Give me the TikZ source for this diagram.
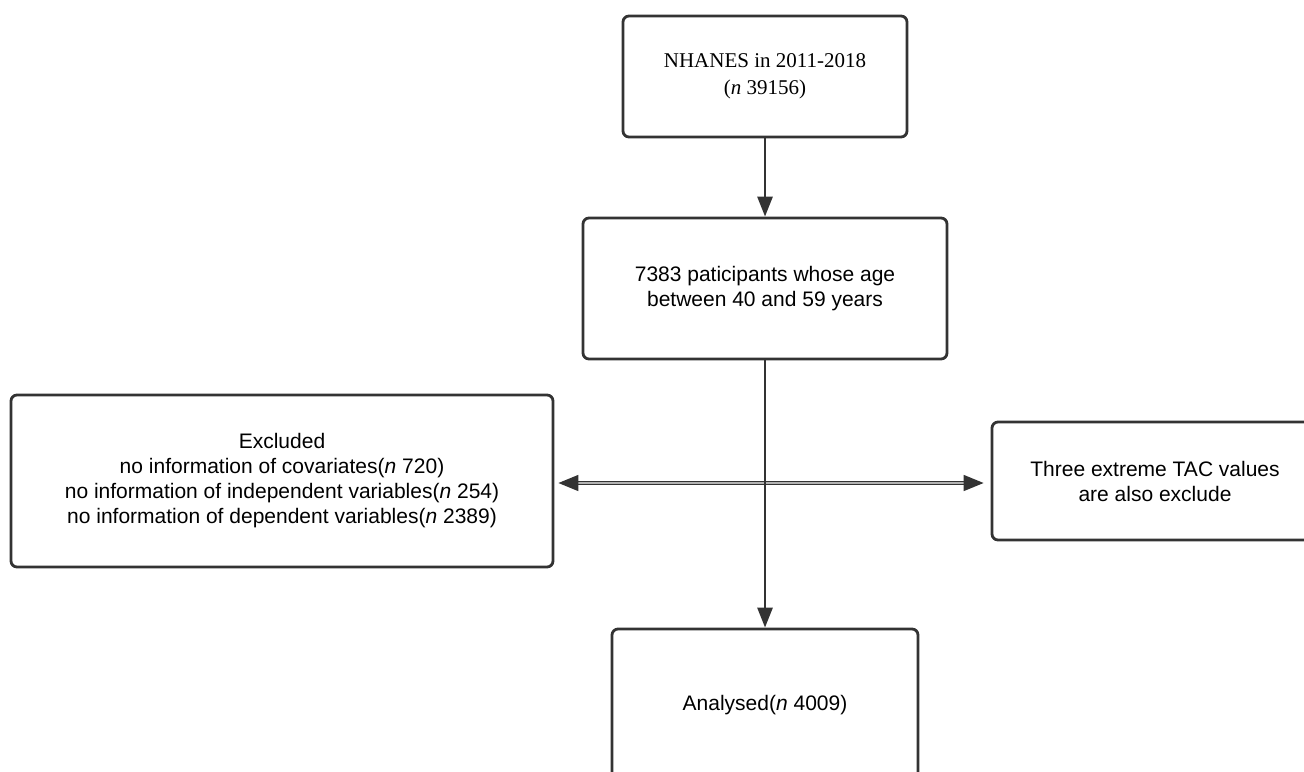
\documentclass[tikz,border=0pt]{standalone}
\usepackage{fontspec}
\setmainfont{Liberation Serif}
\setsansfont{Liberation Sans}
\usepackage{tikz}
\usetikzlibrary{arrows.meta}
\definecolor{linegray}{HTML}{333333}

\begin{document}
\begin{tikzpicture}
      [
        x=0.5pt, y=-0.5pt,
        box/.style={draw=linegray, line width=1.4pt, rounded corners=3pt, align=center, inner sep=0pt},
        sbox/.style={box, font=\sffamily\fontsize{10.5}{12.5}\selectfont},
        flow/.style={draw=linegray, line width=1.4pt, -{Triangle[length=10pt,width=7.5pt]}},
        side/.style={draw=linegray, line width=0.75pt, double=gray!60, double distance=0.7pt, -{Triangle[length=10pt,width=8pt]}}
      ]
      \useasboundingbox (0,0) rectangle (1304,771);
      \clip (0,0) rectangle (1304,771);
      % main column
      \node [box, font=\rmfamily\fontsize{10.5}{13.5}\selectfont, minimum width=142pt, minimum height=60.5pt]
        (nhanes) at (765,76.5) {NHANES in 2011-2018\\(\textit{n} 39156)};
      \node [sbox, minimum width=182pt, minimum height=70.5pt]
        (age) at (765,288.5) {7383 paticipants whose age\\between 40 and 59 years};
      \node [sbox, minimum width=153pt, minimum height=76pt]
        (result) at (765,705) {Analysed(\textit{n} 4009)};
      % excluded boxes
      \node [sbox, minimum width=271pt, minimum height=86pt]
        (excl) at (282,481) {Excluded\\no information of covariates(\textit{n} 720)\\no information of independent variables(\textit{n} 254)\\no information of dependent variables(\textit{n} 2389)};
      \node [sbox, minimum width=163pt, minimum height=59pt]
        (tac) at (1155,481) {Three extreme TAC values\\are also exclude};
      % arrows
      \coordinate (split) at (765,483);
      \draw [side, shorten >=2pt] (split) -- (split -| excl.east);
      \draw [side, shorten >=3.5pt] (split) -- (split -| tac.west);
      \draw [flow] (nhanes) -- (age);
      \draw [flow] (age) -- (result);
\end{tikzpicture}
\end{document}
